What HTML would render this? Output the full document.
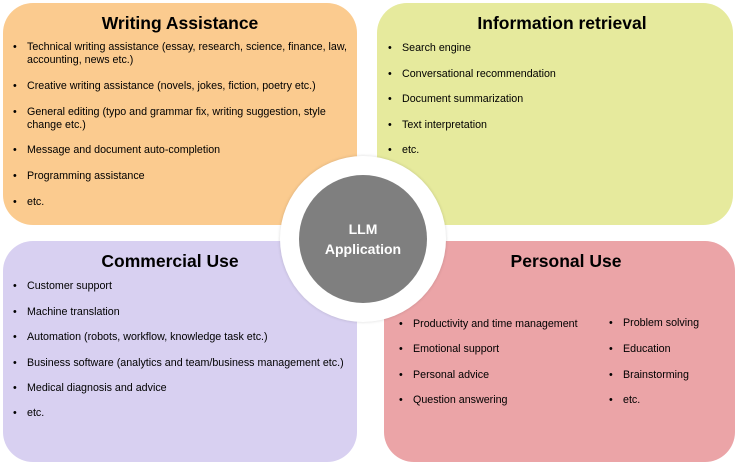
<!DOCTYPE html>
<html><head><style>
body{margin:0;width:738px;height:466px;background:#fff;position:relative;overflow:hidden;font-family:"Liberation Sans",sans-serif}
.b{position:absolute;border-radius:30px}
.t{position:absolute;font-weight:bold;font-size:17.5px;color:#000;transform:translateX(-50%);white-space:nowrap}
.i{position:absolute;font-size:10.7px;line-height:13px;color:#000;white-space:nowrap;margin-top:-1px}
.i:before{content:"•";position:absolute;left:-14px}
</style></head><body>
<div class="b" style="left:3px;top:3px;width:354px;height:222px;background:#fbcb8f"></div>
<div class="b" style="left:377px;top:3px;width:356px;height:222px;background:#e6ea9d"></div>
<div class="b" style="left:3px;top:241px;width:354px;height:221px;background:#d8d0f1"></div>
<div class="b" style="left:384px;top:241px;width:351px;height:221px;background:#eba4a7"></div>
<div style="position:absolute;left:280px;top:156px;width:166px;height:166px;border-radius:50%;background:#fff;box-shadow:0 0 3px rgba(0,0,0,.15)"></div>
<div style="position:absolute;left:299px;top:175px;width:128px;height:128px;border-radius:50%;background:#7f7f7f;color:#fff;font-weight:bold;font-size:14px;line-height:20px;display:flex;align-items:center;justify-content:center;text-align:center">LLM<br>Application</div>

<div class="t" style="left:180px;top:13px">Writing Assistance</div>
<div class="i" style="left:27px;top:42px">Technical writing assistance (essay, research, science, finance, law,<br>accounting, news etc.)</div>
<div class="i" style="left:27px;top:81px">Creative writing assistance (novels, jokes, fiction, poetry etc.)</div>
<div class="i" style="left:27px;top:107px">General editing (typo and grammar fix, writing suggestion, style<br>change etc.)</div>
<div class="i" style="left:27px;top:145px">Message and document auto-completion</div>
<div class="i" style="left:27px;top:171px">Programming assistance</div>
<div class="i" style="left:27px;top:197px">etc.</div>

<div class="t" style="left:562px;top:13px">Information retrieval</div>
<div class="i" style="left:402px;top:43px">Search engine</div>
<div class="i" style="left:402px;top:69px">Conversational recommendation</div>
<div class="i" style="left:402px;top:94px">Document summarization</div>
<div class="i" style="left:402px;top:120px">Text interpretation</div>
<div class="i" style="left:402px;top:145px">etc.</div>

<div class="t" style="left:170px;top:251px">Commercial Use</div>
<div class="i" style="left:27px;top:281px">Customer support</div>
<div class="i" style="left:27px;top:307px">Machine translation</div>
<div class="i" style="left:27px;top:332px">Automation (robots, workflow, knowledge task etc.)</div>
<div class="i" style="left:27px;top:358px">Business software (analytics and team/business management etc.)</div>
<div class="i" style="left:27px;top:383px">Medical diagnosis and advice</div>
<div class="i" style="left:27px;top:408px">etc.</div>

<div class="t" style="left:566px;top:251px">Personal Use</div>
<div class="i" style="left:413px;top:319px">Productivity and time management</div>
<div class="i" style="left:413px;top:344px">Emotional support</div>
<div class="i" style="left:413px;top:370px">Personal advice</div>
<div class="i" style="left:413px;top:395px">Question answering</div>
<div class="i" style="left:623px;top:318px">Problem solving</div>
<div class="i" style="left:623px;top:344px">Education</div>
<div class="i" style="left:623px;top:370px">Brainstorming</div>
<div class="i" style="left:623px;top:395px">etc.</div>
</body></html>
